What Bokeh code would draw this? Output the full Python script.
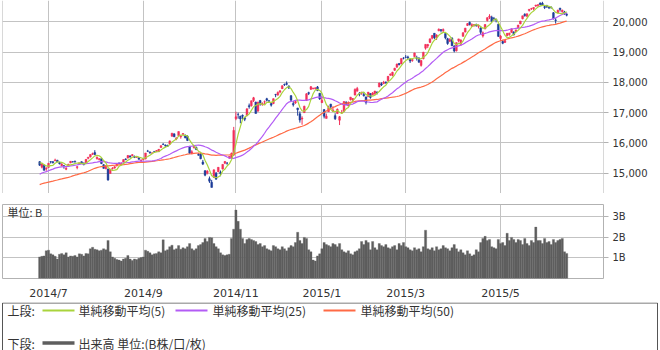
import numpy as np
import pandas as pd
from bokeh.plotting import figure
from bokeh.layouts import column
from bokeh.models import (Range1d, FixedTicker, NumeralTickFormatter, ColumnDataSource,
                          Label, Grid, Span)
from bokeh.embed import file_html
from bokeh.resources import INLINE
from bokeh.core.properties import value

# ---------------- data ----------------
dates = (
    ["2014/06/25", "2014/06/26", "2014/06/27", "2014/06/30"]
    + ["2014/07/%02d" % d for d in [1, 2, 3, 4, 7, 8, 9, 10, 11, 14, 15, 16, 17, 18, 22, 23, 24, 25, 28, 29, 30, 31]]
    + ["2014/08/%02d" % d for d in [1, 4, 5, 6, 7, 8, 11, 12, 13, 14, 15, 18, 19, 20, 21, 22, 25, 26, 27, 28, 29]]
    + ["2014/09/%02d" % d for d in [1, 2, 3, 4, 5, 8, 9, 10, 11, 12, 16, 17, 18, 19, 22, 24, 25, 26, 29, 30]]
    + ["2014/10/%02d" % d for d in [1, 2, 3, 6, 7, 8, 9, 10, 14, 15, 16, 17, 20, 21, 22, 23, 24, 27, 28, 29, 30, 31]]
    + ["2014/11/%02d" % d for d in [4, 5, 6, 7, 10, 11, 12, 13, 14, 17, 18, 19, 20, 21, 25, 26, 27, 28]]
    + ["2014/12/%02d" % d for d in [1, 2, 3, 4, 5, 8, 9, 10, 11, 12, 15, 16, 17, 18, 19, 22, 24, 25, 26, 29, 30]]
    + ["2015/01/%02d" % d for d in [5, 6, 7, 8, 9, 13, 14, 15, 16, 19, 20, 21, 22, 23, 26, 27, 28, 29, 30]]
    + ["2015/02/%02d" % d for d in [2, 3, 4, 5, 6, 9, 10, 12, 13, 16, 17, 18, 19, 20, 23, 24, 25, 26, 27]]
    + ["2015/03/%02d" % d for d in [2, 3, 4, 5, 6, 9, 10, 11, 12, 13, 16, 17, 18, 19, 20, 23, 24, 25, 26, 27, 30, 31]]
    + ["2015/04/%02d" % d for d in [1, 2, 3, 6, 7, 8, 9, 10, 13, 14, 15, 16, 17, 20, 21, 22, 23, 24, 27, 28, 30]]
    + ["2015/05/%02d" % d for d in [1, 7, 8, 11, 12, 13, 14, 15, 18, 19, 20, 21, 22, 25, 26, 27, 28, 29]]
    + ["2015/06/%02d" % d for d in [1, 2, 3, 4, 5, 8, 9, 10, 11, 12, 15, 16, 17]]
)

opens = [
    15380, 15200, 15260, 15140,
    15190, 15380, 15380, 15410, 15430, 15350, 15250, 15250, 15130, 15230, 15340, 15380, 15390, 15190, 15300, 15380, 15340, 15320, 15490, 15540, 15630, 15680,
    15480, 15450, 15480, 15280, 15150, 15140, 14990, 15150, 15170, 15250, 15340, 15280, 15370, 15470, 15500, 15570, 15580, 15560, 15530, 15510, 15400,
    15450, 15470, 15730, 15700, 15660, 15720, 15720, 15710, 15850, 15960, 15930, 15920, 15960, 16220, 16300, 16130, 16240, 16200, 16290, 16250,
    16220, 15890, 15640, 15840, 15850, 15620, 15630, 15370, 15080, 15000, 14820, 14700, 14860, 15000, 15050, 15030, 15140, 15330, 15330, 15500, 15510, 15600,
    16800, 16940, 16880, 16910, 16830, 16900, 17230, 17230, 17400, 17350, 17050, 17400, 17260, 17350, 17460, 17390, 17300, 17300,
    17600, 17580, 17680, 17790, 17930, 17960, 17880, 17560, 17300, 17320, 17150, 16960, 16790, 17000, 17400, 17660, 17770, 17790, 17800, 17850, 17640,
    17330, 17100, 16810, 17030, 17280, 17040, 16900, 16970, 16750, 17000, 17040, 17350, 17220, 17430, 17410, 17580, 17710, 17620, 17640,
    17600, 17520, 17530, 17630, 17590, 17620, 17680, 17850, 17950, 17960, 18010, 18050, 18240, 18230, 18400, 18500, 18620, 18610, 18800,
    18830, 18840, 18770, 18720, 18850, 18810, 18800, 18560, 18780, 19130, 19200, 19320, 19460, 19620, 19490, 19700, 19740, 19700, 19610, 19440, 19360, 19460,
    19190, 19040, 19370, 19260, 19520, 19660, 19880, 19980, 19850, 19870, 19910, 19850, 19800, 19530, 19760, 20040, 20150, 20150, 20110, 20080, 19920,
    19450, 19350, 19320, 19540, 19580, 19650, 19660, 19670, 19800, 19930, 20100, 20250, 20180, 20370, 20430, 20430, 20520, 20540,
    20620, 20610, 20500, 20530, 20490, 20470, 20300, 20060, 20290, 20450, 20330, 20320, 20250,
]
highs = [
    15400, 15330, 15290, 15200,
    15340, 15400, 15400, 15480, 15440, 15380, 15330, 15270, 15200, 15310, 15400, 15400, 15420, 15240, 15350, 15390, 15350, 15460, 15530, 15620, 15680, 15760,
    15550, 15500, 15490, 15300, 15270, 15150, 15140, 15200, 15230, 15330, 15350, 15360, 15460, 15490, 15600, 15590, 15630, 15580, 15560, 15520, 15460,
    15490, 15670, 15770, 15720, 15690, 15730, 15760, 15800, 15920, 15990, 15950, 15940, 16080, 16330, 16310, 16180, 16380, 16260, 16320, 16280,
    16260, 15900, 15760, 15900, 15880, 15670, 15680, 15440, 15100, 15100, 14890, 14780, 15120, 15040, 15200, 15090, 15300, 15400, 15370, 15560, 15680, 16530,
    17030, 17000, 16900, 16940, 16860, 17150, 17300, 17400, 17520, 17360, 17360, 17420, 17340, 17400, 17490, 17410, 17320, 17470,
    17620, 17700, 17740, 17900, 17960, 18030, 17900, 17580, 17380, 17420, 17160, 17040, 16880, 17230, 17640, 17690, 17880, 17820, 17830, 17880, 17650,
    17540, 17110, 16970, 17230, 17290, 17210, 16980, 17140, 16890, 17090, 17370, 17370, 17370, 17520, 17480, 17800, 17850, 17680, 17690,
    17680, 17530, 17680, 17640, 17680, 17720, 17700, 17990, 18000, 18050, 18030, 18210, 18300, 18350, 18480, 18620, 18640, 18790, 18830,
    18900, 18880, 18780, 18780, 18980, 18880, 18830, 18730, 19010, 19260, 19270, 19440, 19560, 19630, 19590, 19780, 19760, 19780, 19620, 19470, 19460, 19490,
    19230, 19320, 19440, 19420, 19650, 19800, 19960, 20010, 19950, 19920, 19940, 19910, 19810, 19680, 19920, 20150, 20250, 20200, 20160, 20100, 19940,
    19560, 19400, 19410, 19630, 19640, 19780, 19690, 19740, 19900, 20030, 20200, 20280, 20270, 20420, 20460, 20480, 20560, 20580,
    20640, 20660, 20530, 20560, 20500, 20510, 20320, 20130, 20400, 20460, 20400, 20360, 20300,
]
lows = [
    15240, 15160, 15090, 15080,
    15180, 15320, 15320, 15400, 15360, 15290, 15230, 15150, 15100, 15220, 15330, 15350, 15350, 15130, 15280, 15320, 15260, 15310, 15460, 15520, 15600, 15600,
    15450, 15420, 15300, 15150, 15130, 14750, 14990, 15120, 15150, 15220, 15300, 15270, 15360, 15430, 15490, 15510, 15560, 15500, 15510, 15450, 15370,
    15430, 15460, 15700, 15640, 15640, 15680, 15700, 15700, 15840, 15930, 15860, 15870, 15950, 16210, 16190, 16090, 16230, 16140, 16250, 16150,
    16060, 15640, 15630, 15820, 15760, 15580, 15460, 15270, 14900, 14960, 14680, 14530, 14850, 14790, 15030, 14900, 15120, 15300, 15280, 15470, 15490, 15570,
    16750, 16800, 16650, 16780, 16720, 16880, 17130, 17200, 17350, 16970, 17040, 17230, 17230, 17270, 17370, 17320, 17200, 17280,
    17510, 17560, 17640, 17780, 17880, 17900, 17780, 17380, 17200, 17290, 16900, 16670, 16600, 16990, 17390, 17580, 17750, 17770, 17760, 17710, 17420,
    17320, 16810, 16810, 17030, 17120, 17030, 16760, 16960, 16590, 16960, 17030, 17240, 17210, 17400, 17360, 17570, 17700, 17540, 17590,
    17530, 17270, 17510, 17460, 17570, 17590, 17600, 17840, 17880, 17940, 17950, 18030, 18210, 18200, 18380, 18490, 18560, 18600, 18760,
    18800, 18770, 18640, 18680, 18840, 18720, 18650, 18520, 18760, 19080, 19130, 19300, 19420, 19430, 19400, 19690, 19650, 19660, 19420, 19240, 19330, 19200,
    18990, 19020, 19320, 19200, 19510, 19650, 19860, 19880, 19830, 19840, 19840, 19780, 19590, 19480, 19760, 20010, 20090, 19980, 20030, 19980, 19500,
    19370, 19260, 19300, 19520, 19540, 19640, 19550, 19660, 19780, 19920, 20080, 20170, 20150, 20340, 20390, 20380, 20490, 20490,
    20540, 20520, 20420, 20460, 20420, 20440, 20080, 19940, 20280, 20340, 20300, 20230, 20180,
]
closes = [
    15266, 15308, 15095, 15162,
    15326, 15369, 15348, 15437, 15379, 15314, 15302, 15216, 15164, 15296, 15395, 15379, 15370, 15215, 15343, 15328, 15284, 15457, 15529, 15618, 15646, 15620,
    15523, 15474, 15320, 15160, 15232, 14778, 15130, 15161, 15213, 15314, 15318, 15322, 15449, 15454, 15586, 15539, 15613, 15521, 15534, 15459, 15425,
    15476, 15668, 15728, 15676, 15668, 15705, 15749, 15788, 15909, 15948, 15911, 15888, 16067, 16321, 16205, 16167, 16374, 16229, 16310, 16173,
    16082, 15661, 15708, 15890, 15783, 15595, 15479, 15300, 14936, 15073, 14738, 14532, 15111, 14804, 15195, 14983, 15291, 15388, 15329, 15553, 15658, 16413,
    16862, 16937, 16792, 16880, 16780, 17124, 17197, 17392, 17490, 16973, 17344, 17288, 17300, 17357, 17407, 17383, 17248, 17459,
    17590, 17663, 17720, 17887, 17920, 17935, 17813, 17412, 17257, 17371, 17099, 16755, 16819, 17210, 17621, 17635, 17854, 17808, 17818, 17729, 17451,
    17408, 16883, 16885, 17167, 17198, 17088, 16796, 17108, 16864, 17014, 17366, 17280, 17329, 17511, 17468, 17768, 17795, 17606, 17674,
    17558, 17335, 17678, 17504, 17648, 17711, 17652, 17979, 17913, 18004, 17987, 18199, 18264, 18332, 18466, 18603, 18585, 18785, 18797,
    18826, 18815, 18703, 18751, 18971, 18790, 18665, 18723, 18991, 19254, 19246, 19437, 19544, 19476, 19560, 19754, 19713, 19746, 19471, 19285, 19411, 19206,
    19034, 19312, 19435, 19397, 19640, 19789, 19937, 19907, 19905, 19908, 19869, 19885, 19652, 19634, 19909, 20133, 20187, 20020, 20104, 20058, 19520,
    19531, 19292, 19379, 19620, 19625, 19765, 19570, 19732, 19890, 20026, 20196, 20202, 20264, 20413, 20437, 20473, 20551, 20563,
    20569, 20543, 20473, 20489, 20460, 20457, 20096, 20046, 20382, 20407, 20387, 20257, 20219,
]
# volume in billions of shares (B)
volumes = [
    1.05, 1.08, 1.10, 1.35,
    1.38, 1.20, 1.15, 1.08, 0.95, 1.18, 1.22, 1.15, 1.25, 1.05, 1.10, 1.08, 1.12, 1.05, 1.20, 1.18, 1.10, 1.22, 1.20, 1.45, 1.52, 1.42,
    1.40, 1.35, 1.38, 1.45, 1.40, 1.85, 1.30, 1.05, 0.98, 0.92, 0.90, 0.85, 0.95, 0.98, 1.12, 0.95, 0.88, 0.95, 0.92, 0.98, 1.02,
    1.05, 1.38, 1.32, 1.25, 1.15, 1.20, 1.22, 1.30, 1.25, 1.88, 1.35, 1.40, 1.55, 1.62, 1.40, 1.45, 1.60, 1.42, 1.50, 1.45,
    1.55, 1.70, 1.45, 1.38, 1.45, 1.60, 1.65, 1.75, 1.95, 1.80, 2.00, 1.98, 1.70, 1.55, 1.45, 1.25, 1.15, 1.12, 1.15, 1.18, 1.95, 2.40,
    3.33, 2.78, 2.40, 1.95, 1.70, 1.90, 1.95, 1.90, 1.85, 1.80, 1.65, 1.70, 1.55, 1.60, 1.45, 1.40, 1.35, 1.60,
    1.55, 1.45, 1.40, 1.55, 1.45, 1.35, 1.50, 1.60, 1.55, 1.75, 2.25, 1.85, 1.70, 2.00, 1.95, 1.40, 1.30, 0.90, 0.85, 1.10, 1.20,
    1.45, 1.75, 1.65, 1.60, 1.55, 1.70, 1.65, 1.55, 1.70, 1.40, 1.30, 1.25, 1.35, 1.20, 1.15, 1.30, 1.35, 1.45, 1.80,
    1.65, 1.85, 1.75, 1.40, 1.80, 1.50, 1.40, 1.70, 1.60, 1.55, 1.65, 1.50, 1.45, 1.55, 1.60, 1.40, 1.70, 1.60, 1.75,
    1.55, 1.50, 1.40, 1.35, 1.50, 1.40, 1.45, 1.30, 1.55, 2.35, 1.45, 1.40, 1.50, 1.35, 1.55, 1.40, 1.45, 1.60, 1.50, 1.45, 1.35, 1.50,
    1.65, 1.45, 1.30, 1.40, 1.25, 1.15, 1.35, 1.20, 1.10, 1.15, 1.40, 1.30, 1.75, 1.95, 2.05, 1.85, 1.90, 1.55, 1.50, 1.45, 1.90,
    1.70, 1.75, 1.60, 2.20, 1.85, 2.00, 1.90, 1.75, 1.90, 1.85, 1.65, 1.95, 1.70, 1.60, 1.85, 1.75, 2.50, 1.85,
    1.85, 1.70, 1.95, 1.75, 1.80, 1.65, 1.90, 1.75, 1.85, 1.90, 1.95, 1.30, 1.22,
]
# closes before the first shown day (Apr 10 - Jun 24, 2014), used only for the moving averages
warmup_closes = [
    14300, 13960, 13910, 13996, 14417, 14518, 14516, 14512, 14388, 14546, 14404, 14429, 14288, 14304,
    14485, 14457, 14033, 14163, 14199, 14149, 14425, 14405, 14298, 14096, 14006, 14075, 14042, 14337, 14462, 14602, 14636, 14670, 14681, 14632,
    14935, 15000, 14989, 15070, 15077, 15124, 15069, 15069, 14973, 15097, 14933, 14975, 15115, 15361, 15349, 15369, 15376,
]
tick_months = ["2014/07", "2014/09", "2014/11", "2015/01", "2015/03", "2015/05"]
tick_labels = ["2014/7", "2014/9", "2014/11", "2015/1", "2015/3", "2015/5"]
price_ticks = [15000, 16000, 17000, 18000, 19000, 20000]
volume_ticks = [1, 2, 3]
volume_tick_labels = ["1B", "2B", "3B"]
legend_top_items = ["単純移動平均(5)", "単純移動平均(25)", "単純移動平均(50)"]
legend_bottom_item = "出来高 単位:(B株/口/枚)"

# ---------------- derived ----------------
n = len(dates)
idx = np.arange(n)
tick_idx = [next(i for i, d in enumerate(dates) if d.startswith(m)) for m in tick_months]
label_map = {int(t): lab for t, lab in zip(tick_idx, tick_labels)}

allc = pd.Series(warmup_closes + closes, dtype=float)
k = len(warmup_closes)
sma5 = allc.rolling(5).mean().values[k:]
sma25 = allc.rolling(25).mean().values[k:]
sma50 = allc.rolling(50).mean().values[k:]

UP, DOWN = "#f2305a", "#1d3d98"
o = np.array(opens, float); c = np.array(closes, float)
src = ColumnDataSource(dict(
    x=idx, open=o, close=c, high=np.array(highs, float), low=np.array(lows, float),
    top=np.maximum(o, c), bottom=np.minimum(o, c),
    color=[UP if cc >= oo else DOWN for oo, cc in zip(o, c)],
))

# ---------------- style ----------------
PX_PER_DAY = 2.205
XMIN = tick_idx[0] - 46 / PX_PER_DAY
XMAX = XMIN + 601 / PX_PER_DAY
GRID = "#c3c3c3"
FRAME = "#b2b2b2"
TXT = "#333333"
NUMFONT = "DejaVu Sans"
JPFONT = "Noto Sans CJK JP"
C5, C25, C50 = "#a9d43c", "#b35cf5", "#ff6a45"
VOLC = "#5e5e5e"

xr = Range1d(XMIN, XMAX)

# ---------------- price panel ----------------
YMIN, YMAX = 14330, 20703
p1 = figure(width=660, height=193, x_range=xr, y_range=Range1d(YMIN, YMAX),
            output_backend="svg", toolbar_location=None,
            x_axis_location=None, y_axis_location="right",
            min_border_left=2, min_border_right=57, min_border_top=0, min_border_bottom=0)
p1.outline_line_color = None
for loc, dim in [(XMIN, "height"), (XMAX, "height"), (YMIN, "width")]:
    p1.add_layout(Span(location=loc, dimension=dim, line_color=FRAME, line_width=1))
if len(p1.xgrid) == 0:
    p1.add_layout(Grid(dimension=0), "center")
for g in p1.xgrid:
    g.ticker = FixedTicker(ticks=tick_idx)
    g.grid_line_color = GRID
p1.ygrid.ticker = FixedTicker(ticks=price_ticks)
p1.ygrid.grid_line_color = GRID
ax = p1.yaxis[0]
ax.ticker = FixedTicker(ticks=price_ticks)
ax.formatter = NumeralTickFormatter(format="0,0")
ax.axis_line_color = None
ax.major_tick_line_color = FRAME
ax.major_tick_out = 5
ax.major_tick_in = 0
ax.minor_tick_line_color = None
ax.major_label_standoff = 4
ax.major_label_text_font = NUMFONT
ax.major_label_text_font_size = "10px"
ax.major_label_text_color = TXT

p1.segment(x0="x", y0="low", x1="x", y1="high", line_color="color", line_width=1, source=src)
p1.vbar(x="x", width=0.8, top="top", bottom="bottom", fill_color="color",
        line_color="color", line_width=0.5, source=src)
p1.line(idx, sma50, line_color=C50, line_width=1.2)
p1.line(idx, sma25, line_color=C25, line_width=1.2)
p1.line(idx, sma5, line_color=C5, line_width=1.2)

# ---------------- volume panel ----------------
VTOP = 3.6
p2 = figure(width=660, height=109, x_range=xr, y_range=Range1d(0, VTOP),
            output_backend="svg", toolbar_location=None,
            x_axis_location="below", y_axis_location="right",
            min_border_left=2, min_border_right=57, min_border_top=11, min_border_bottom=16)
p2.outline_line_color = FRAME
p2.xgrid.ticker = FixedTicker(ticks=tick_idx)
p2.xgrid.grid_line_color = GRID
p2.ygrid.ticker = FixedTicker(ticks=volume_ticks)
p2.ygrid.grid_line_color = GRID
xa = p2.xaxis[0]
xa.ticker = FixedTicker(ticks=tick_idx)
xa.major_label_overrides = label_map
xa.axis_line_color = None
xa.major_tick_line_color = None
xa.minor_tick_line_color = None
xa.major_label_standoff = 2
xa.major_label_text_font = NUMFONT
xa.major_label_text_font_size = "11px"
xa.major_label_text_color = TXT
ya = p2.yaxis[0]
ya.ticker = FixedTicker(ticks=volume_ticks)
ya.major_label_overrides = {t: lab for t, lab in zip(volume_ticks, volume_tick_labels)}
ya.axis_line_color = None
ya.major_tick_line_color = FRAME
ya.major_tick_out = 5
ya.major_tick_in = 0
ya.minor_tick_line_color = None
ya.major_label_standoff = 4
ya.major_label_text_font = NUMFONT
ya.major_label_text_font_size = "10px"
ya.major_label_text_color = TXT

p2.vbar(x=idx, top=volumes, bottom=0, width=1.0, fill_color=VOLC, line_color=VOLC, line_width=0.3)
p2.add_layout(Label(x=XMIN + 5 / PX_PER_DAY, y=VTOP - 8 / 22.8, text="単位: B",
                    text_font=JPFONT, text_font_size="11px", text_color=TXT,
                    text_baseline="middle", text_align="left"))

# ---------------- legend panel ----------------
p3 = figure(width=660, height=48, x_range=Range1d(0, 660), y_range=Range1d(48, 0),
            output_backend="svg", toolbar_location=None,
            x_axis_location=None, y_axis_location=None,
            min_border_left=0, min_border_right=0, min_border_top=0, min_border_bottom=0)
p3.frame_align = False
p3.outline_line_color = None
p3.xgrid.visible = False
p3.ygrid.visible = False
p3.quad(left=[2], right=[657], top=[0.5], bottom=[80], fill_color=None,
        line_color="#555555", line_width=1)
r1, r2 = 8, 40.5
p3.segment(x0=[42, 175, 323], y0=[r1] * 3, x1=[74, 207, 355], y1=[r1] * 3,
           line_color=[C5, C25, C50], line_width=2)
p3.segment(x0=[42], y0=[r2], x1=[74], y1=[r2], line_color=VOLC, line_width=3.5)
p3.text(x=[7, 78, 212, 360, 7, 78], y=[r1, r1, r1, r1, r2, r2],
        text=["上段:"] + legend_top_items + ["下段:", legend_bottom_item],
        text_font=value(JPFONT), text_font_size=value("12px"), text_color=TXT,
        text_baseline="middle", text_align="left")

layout = column(p1, p2, p3, spacing=0)
open("out.html", "w").write(file_html(layout, INLINE))
